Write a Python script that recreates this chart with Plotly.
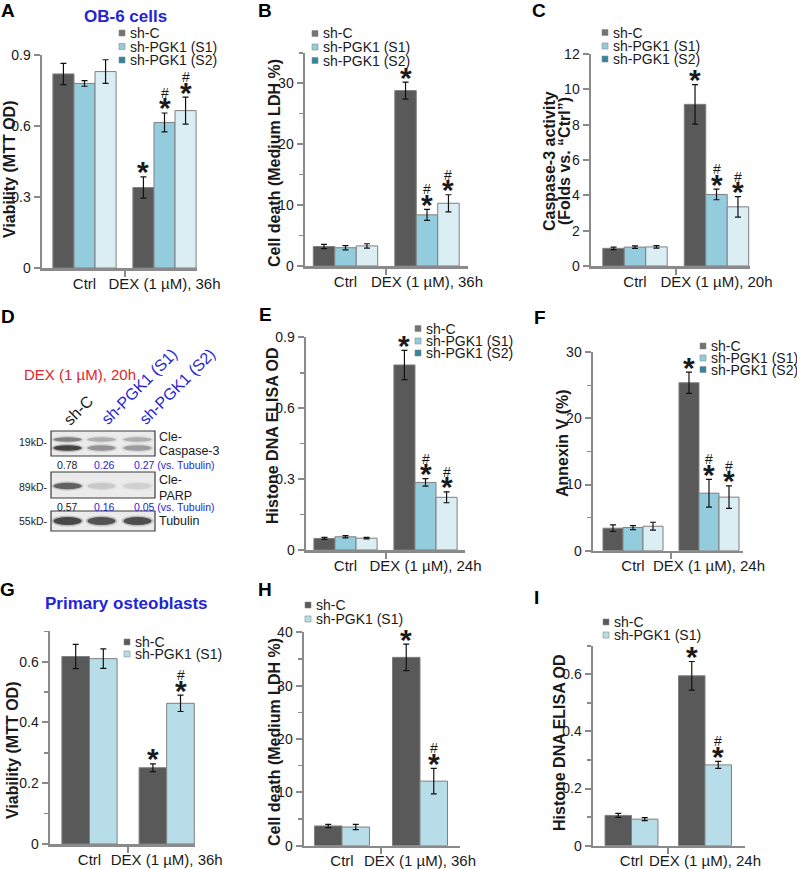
import plotly.graph_objects as go

W, H = 797, 869
FONT = "Liberation Sans, Arial, Helvetica, sans-serif"
AXC = "#8a8a8a"
BLUE = "#2424d6"
RED = "#e3242b"
TXT = "#1a1a1a"

# ---------------- data ----------------
series3 = ["sh-C", "sh-PGK1 (S1)", "sh-PGK1 (S2)"]
series2 = ["sh-C", "sh-PGK1 (S1)"]
x36 = ["Ctrl", "DEX (1 µM), 36h"]
x20 = ["Ctrl", "DEX (1 µM), 20h"]
x24 = ["Ctrl", "DEX (1 µM), 24h"]

# values per series: [Ctrl, DEX]
a_vals = [[0.82, 0.34], [0.78, 0.615], [0.83, 0.665]]
a_errs = [[0.045, 0.045], [0.012, 0.04], [0.05, 0.057]]
b_vals = [[3.2, 28.8], [3.0, 8.4], [3.3, 10.3]]
b_errs = [[0.35, 1.4], [0.35, 0.9], [0.35, 1.4]]
c_vals = [[1.0, 9.15], [1.07, 4.05], [1.08, 3.35]]
c_errs = [[0.07, 1.12], [0.07, 0.3], [0.07, 0.58]]
e_vals = [[0.049, 0.783], [0.056, 0.286], [0.05, 0.223]]
e_errs = [[0.004, 0.062], [0.005, 0.016], [0.003, 0.023]]
f_vals = [[3.4, 25.4], [3.5, 8.7], [3.7, 8.1]]
f_errs = [[0.5, 1.6], [0.3, 2.1], [0.6, 1.7]]
g_vals = [[0.617, 0.251], [0.61, 0.463]]
g_errs = [[0.04, 0.013], [0.032, 0.027]]
h_vals = [[3.7, 35.3], [3.5, 12.1]]
h_errs = [[0.3, 2.5], [0.5, 2.4]]
i_vals = [[0.106, 0.595], [0.093, 0.283]]
i_errs = [[0.007, 0.05], [0.005, 0.012]]

sig3 = [["", "*"], ["", "#*"], ["", "#*"]]
sig2 = [["", "*"], ["", "#*"]]

# western blot (panel D)
lanes = ["sh-C", "sh-PGK1 (S1)", "sh-PGK1 (S2)"]
cas3_upper = [0.55, 0.3, 0.3]
cas3_lower = [0.95, 0.45, 0.4]
parp_band = [0.75, 0.16, 0.12]
tub_band = [0.92, 0.85, 0.88]
cas3_ratio = ["0.78", "0.26", "0.27"]
parp_ratio = ["0.57", "0.16", "0.05"]

# ---------------- styles ----------------
BAR3 = ["#595959", "#93cddd", "#dbeef4"]
LEG3 = ["#737373", "#93cddd", "#31859c"]
BAR2 = ["#595959", "#b7dee8"]
LEG2 = ["#595959", "#b7dee8"]

panels = [
    dict(letter="A", letter_xy=(8, 11), vals=a_vals, errs=a_errs, sig=sig3, xlab=x36,
         ytitle=["Viability (MTT OD)"], ytx=[10], yty=170, yr=[0, 0.9], dtick=0.3, minor=None,
         ax=(42, 197), ay=(268, 55), cen=(84.5, 164.5), gw=0.79, bar=BAR3, leg=LEG3,
         names=series3, legx=119, legy=[33, 46.5, 60]),
    dict(letter="B", letter_xy=(265, 11), vals=b_vals, errs=b_errs, sig=sig3, xlab=x36,
         ytitle=["Cell death (Medium LDH %)"], ytx=[274], yty=163, yr=[0, 35], dtick=10, minor=5,
         ax=(305, 468), ay=(266, 52.8), cen=(345.5, 427), gw=0.79, bar=BAR3, leg=LEG3,
         names=series3, legx=312, legy=[33.5, 47, 60.5]),
    dict(letter="C", letter_xy=(539, 11), vals=c_vals, errs=c_errs, sig=sig3, xlab=x20,
         ytitle=["Caspase-3 activity", "(Folds vs. “Ctrl”)"], ytx=[549, 564], yty=161,
         yr=[0, 12], dtick=2, minor=None,
         ax=(591, 750), ay=(266, 54), cen=(635, 716.5), gw=0.79, bar=BAR3, leg=LEG3,
         names=series3, legx=602, legy=[32.5, 46, 59]),
    dict(letter="E", letter_xy=(265, 315), vals=e_vals, errs=e_errs, sig=sig3, xlab=x24,
         ytitle=["Histone DNA ELISA OD"], ytx=[272], yty=436, yr=[0, 0.9], dtick=0.3, minor=0.15,
         ax=(306, 465), ay=(550, 337.3), cen=(345.5, 425.5), gw=0.79, bar=BAR3, leg=LEG3,
         names=series3, legx=415, legy=[328.5, 341, 353]),
    dict(letter="F", letter_xy=(540, 317), vals=f_vals, errs=f_errs, sig=sig3, xlab=x24,
         ytitle=["Annexin V (%)"], ytx=[562], yty=443, yr=[0, 30], dtick=10, minor=5,
         ax=(593, 743), ay=(550.7, 352.3), cen=(633, 709), gw=0.79, bar=BAR3, leg=LEG3,
         names=series3, legx=700, legy=[346, 358, 369.5]),
    dict(letter="G", letter_xy=(8, 589), vals=g_vals, errs=g_errs, sig=sig2, xlab=x36,
         ytitle=["Viability (MTT OD)"], ytx=[12], yty=751, yr=[0, 0.7], dtick=0.2, minor=0.1,
         ax=(50, 195), ay=(844, 631.3), cen=(89.5, 166.7), gw=0.715, bar=BAR2, leg=LEG2,
         names=series2, legx=124, legy=[642, 654]),
    dict(letter="H", letter_xy=(265, 589), vals=h_vals, errs=h_errs, sig=sig2, xlab=x36,
         ytitle=["Cell death (Medium LDH %)"], ytx=[274], yty=742, yr=[0, 40], dtick=10, minor=5,
         ax=(304, 460), ay=(845.7, 632.3), cen=(342, 420), gw=0.705, bar=BAR2, leg=LEG2,
         names=series2, legx=305, legy=[605, 619]),
    dict(letter="I", letter_xy=(536, 597), vals=i_vals, errs=i_errs, sig=sig2, xlab=x24,
         ytitle=["Histone DNA ELISA OD"], ytx=[559], yty=743, yr=[0, 0.7], dtick=0.2, minor=0.1,
         ax=(593, 745), ay=(845.7, 645.8), cen=(631.5, 705), gw=0.72, bar=BAR2, leg=LEG2,
         names=series2, legx=603, legy=[622, 635]),
]

STAR_SIZE, STAR_SHIFT = 30, 5
HASH_SIZE, HASH_SHIFT = 14, 20


def PX(x):
    return x / W


def PY(y):
    return 1 - y / H


fig = go.Figure()
annotations = []
shapes = []
layout = {}

for k, p in enumerate(panels, start=1):
    sx = "" if k == 1 else str(k)
    xref, yref = "x" + sx, "y" + sx
    x0, x1 = p["ax"]
    yb, yt = p["ay"]
    c0, c1 = p["cen"]
    sep = c1 - c0
    xr = [-(c0 - x0) / sep, 1 + (x1 - c1) / sep]
    n = len(p["vals"])
    gw = p["gw"]
    w = gw / n
    for i in range(n):
        fig.add_trace(go.Bar(
            x=[0, 1], y=p["vals"][i], width=w, offset=-gw / 2 + i * w,
            name=p["names"][i],
            marker=dict(color=p["bar"][i], line=dict(color="#7f7f7f", width=1)),
            error_y=dict(type="data", array=p["errs"][i], color="#111111", thickness=1.2, width=3),
            xaxis=xref, yaxis=yref, showlegend=False, hoverinfo="skip"))
        for g in range(2):
            s = p["sig"][i][g]
            if not s:
                continue
            xc = g - gw / 2 + (i + 0.5) * w
            ytop = p["vals"][i][g] + p["errs"][i][g]
            if "*" in s:
                annotations.append(dict(x=xc, y=ytop, xref=xref, yref=yref, text="<b>*</b>",
                                        showarrow=False, xanchor="center", yanchor="middle",
                                        yshift=STAR_SHIFT,
                                        font=dict(size=STAR_SIZE, family=FONT, color=TXT)))
            if "#" in s:
                annotations.append(dict(x=xc, y=ytop, xref=xref, yref=yref, text="#",
                                        showarrow=False, xanchor="center", yanchor="middle",
                                        yshift=HASH_SHIFT,
                                        font=dict(size=HASH_SIZE, family=FONT, color=TXT)))
    layout["xaxis" + sx] = dict(
        domain=[PX(x0), PX(x1)], range=xr, anchor=yref, showline=True, linecolor=AXC,
        linewidth=2.5, tickmode="array", tickvals=[0, 1], ticktext=p["xlab"], ticks="",
        tickfont=dict(size=15, family=FONT, color=TXT), showgrid=False, zeroline=False,
        fixedrange=True, automargin=False,
        minor=dict(tickmode="array", tickvals=[0.5], ticks="outside", ticklen=6, tickwidth=2,
                   tickcolor=AXC, showgrid=False))
    ydict = dict(
        domain=[PY(yb), PY(yt)], range=p["yr"], anchor=xref, showline=True, linecolor=AXC,
        linewidth=2.5, tickmode="linear", tick0=0, dtick=p["dtick"], ticks="outside",
        ticklen=6, tickwidth=2, tickcolor=AXC, tickfont=dict(size=14, family=FONT, color=TXT),
        showgrid=False, zeroline=False, fixedrange=True, automargin=False)
    if p["minor"]:
        ydict["minor"] = dict(tick0=0, dtick=p["minor"], ticks="outside", ticklen=4,
                              tickwidth=1.5, tickcolor=AXC, showgrid=False)
    layout["yaxis" + sx] = ydict

    # y axis title(s)
    for line, tx in zip(p["ytitle"], p["ytx"]):
        annotations.append(dict(x=PX(tx), y=PY(p["yty"]), xref="paper", yref="paper",
                                text="<b>" + line + "</b>", textangle=-90, showarrow=False,
                                xanchor="center", yanchor="middle",
                                font=dict(size=16, family=FONT, color=TXT)))
    # panel letter
    lx, ly = p["letter_xy"]
    annotations.append(dict(x=PX(lx), y=PY(ly), xref="paper", yref="paper",
                            text="<b>" + p["letter"] + "</b>", showarrow=False,
                            xanchor="center", yanchor="middle",
                            font=dict(size=19, family=FONT, color="#000")))
    # legend (drawn manually)
    for i, nm in enumerate(p["names"]):
        ry = p["legy"][i]
        shapes.append(dict(type="rect", xref="paper", yref="paper",
                           x0=PX(p["legx"]), x1=PX(p["legx"] + 6),
                           y0=PY(ry + 3), y1=PY(ry - 3),
                           fillcolor=p["leg"][i], line=dict(color="#8c8c8c", width=0.6)))
        annotations.append(dict(x=PX(p["legx"] + 8.5), y=PY(ry), xref="paper", yref="paper",
                                text=nm, showarrow=False, xanchor="left", yanchor="middle",
                                font=dict(size=14, family=FONT, color=TXT)))

# panel titles
annotations.append(dict(x=PX(125), y=PY(17), xref="paper", yref="paper", text="<b>OB-6 cells</b>",
                        showarrow=False, xanchor="center", yanchor="middle",
                        font=dict(size=17, family=FONT, color=BLUE)))
annotations.append(dict(x=PX(126), y=PY(603), xref="paper", yref="paper",
                        text="<b>Primary osteoblasts</b>", showarrow=False, xanchor="center",
                        yanchor="middle", font=dict(size=17, family=FONT, color=BLUE)))

# ---------------- panel D: western blot ----------------
annotations.append(dict(x=PX(8), y=PY(316), xref="paper", yref="paper", text="<b>D</b>",
                        showarrow=False, xanchor="center", yanchor="middle",
                        font=dict(size=19, family=FONT, color="#000")))
annotations.append(dict(x=PX(22), y=PY(374), xref="paper", yref="paper",
                        text="DEX (1 µM), 20h", showarrow=False, xanchor="left",
                        yanchor="middle", font=dict(size=15, family=FONT, color=RED)))

lane_x = [67.5, 101.5, 137.5]
lane_lab_xy = [(78, 410), (139, 386), (177, 386)]
lane_col = [TXT, BLUE, BLUE]
for i, lab in enumerate(lanes):
    annotations.append(dict(x=PX(lane_lab_xy[i][0]), y=PY(lane_lab_xy[i][1]), xref="paper",
                            yref="paper", text=lab, textangle=-45, showarrow=False,
                            xanchor="center", yanchor="middle",
                            font=dict(size=16, family=FONT, color=lane_col[i])))

BX0, BX1 = 51, 155
boxes = [(431, 456), (472, 498), (511, 531)]
for (t, b) in boxes:
    shapes.append(dict(type="rect", xref="paper", yref="paper", x0=PX(BX0), x1=PX(BX1),
                       y0=PY(b), y1=PY(t), fillcolor="#ebebeb",
                       line=dict(color="#3a3a3a", width=1.2), layer="below"))


def band(xc, yc, hw, hh, v):
    shapes.append(dict(type="circle", xref="paper", yref="paper",
                       x0=PX(xc - hw - 2), x1=PX(xc + hw + 2), y0=PY(yc + hh + 1.5),
                       y1=PY(yc - hh - 1.5), fillcolor="rgba(40,40,40,%.3f)" % (0.25 * v),
                       line=dict(width=0)))
    shapes.append(dict(type="circle", xref="paper", yref="paper",
                       x0=PX(xc - hw), x1=PX(xc + hw), y0=PY(yc + hh), y1=PY(yc - hh),
                       fillcolor="rgba(30,30,30,%.3f)" % (0.8 * v), line=dict(width=0)))


for i in range(3):
    band(lane_x[i], 439.5, 14, 2.2, cas3_upper[i])
    band(lane_x[i], 448, 14, 2.8, cas3_lower[i])
    band(lane_x[i], 486, 14, 3.2, parp_band[i])
    band(lane_x[i], 521, 14, 4.0, tub_band[i])

kd = [("19kD-", 442), ("89kD-", 487), ("55kD-", 521)]
for t, y in kd:
    annotations.append(dict(x=PX(50), y=PY(y), xref="paper", yref="paper", text=t,
                            showarrow=False, xanchor="right", yanchor="middle",
                            font=dict(size=10.5, family=FONT, color=TXT)))
prot = [("Cle-", 436.5), ("Caspase-3", 450.5), ("Cle-", 480), ("PARP", 495.5), ("Tubulin", 521)]
for t, y in prot:
    annotations.append(dict(x=PX(157), y=PY(y), xref="paper", yref="paper", text=t,
                            showarrow=False, xanchor="left", yanchor="middle",
                            font=dict(size=12.5, family=FONT, color=TXT)))
num_x = [67, 104]
for row_y, vals in [(465, cas3_ratio), (507, parp_ratio)]:
    for i in range(2):
        annotations.append(dict(x=PX(num_x[i]), y=PY(row_y), xref="paper", yref="paper",
                                text=vals[i], showarrow=False, xanchor="center", yanchor="middle",
                                font=dict(size=10.5, family=FONT,
                                          color=TXT if i == 0 else BLUE)))
    annotations.append(dict(x=PX(132), y=PY(row_y), xref="paper", yref="paper",
                            text=vals[2] + " (vs. Tubulin)", showarrow=False, xanchor="left",
                            yanchor="middle", font=dict(size=10.5, family=FONT, color=BLUE)))

fig.update_layout(
    template="none",
    width=W, height=H, margin=dict(l=0, r=0, t=0, b=0, autoexpand=False), autosize=False,
    paper_bgcolor="white", plot_bgcolor="white", barmode="overlay",
    showlegend=False, annotations=annotations, shapes=shapes,
    font=dict(family=FONT, color=TXT), **layout)

fig.write_html("out.html", config={"displayModeBar": False, "staticPlot": True},
               post_script="document.body.style.margin='0px';document.body.style.padding='0px';")
